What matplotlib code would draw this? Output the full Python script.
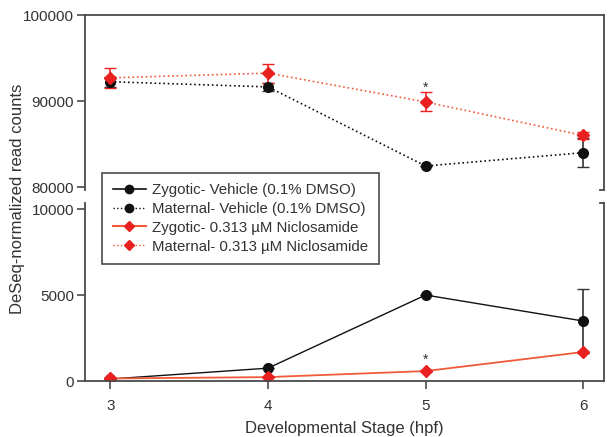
import numpy as np
import matplotlib
matplotlib.use("Agg")
import matplotlib.pyplot as plt
from matplotlib.lines import Line2D

plt.rcParams['font.family'] = ['Liberation Sans', 'DejaVu Sans']

stage = [3, 4, 5, 6]

# zygotic (lower panel)
zyg_veh = [120, 750, 5000, 3490]
zyg_veh_err = [0, 0, 0, 1860]
zyg_nic = [150, 230, 580, 1690]
zyg_nic_err = [0, 0, 0, 0]

# maternal (upper panel)
mat_veh = [92250, 91650, 82450, 84000]
mat_veh_err = [600, 450, 0, 1650]
mat_nic = [92700, 93250, 89900, 86000]
mat_nic_err = [1200, 1100, 1100, 450]

legend_labels = ["Zygotic- Vehicle (0.1% DMSO)",
                 "Maternal- Vehicle (0.1% DMSO)",
                 "Zygotic- 0.313 \u00b5M Niclosamide",
                 "Maternal- 0.313 \u00b5M Niclosamide"]

black = "#111111"
red = "#e8201f"
red_line = "#f05a3a"
spine_c = "#4a4a4a"
text_c = "#333333"

fig = plt.figure(figsize=(6.08, 4.37), dpi=100)
ax_top = fig.add_axes([0.140, 0.565, 0.853, 0.4005])
ax_bot = fig.add_axes([0.140, 0.128, 0.853, 0.4075])

for ax in (ax_top, ax_bot):
    ax.set_xlim(2.84, 6.13)
    for s in ax.spines.values():
        s.set_color(spine_c)
        s.set_linewidth(1.3)
    ax.tick_params(direction='out', length=6, width=1.2, color=spine_c,
                   labelsize=11, labelcolor=text_c, pad=2)

ax_top.spines['bottom'].set_visible(False)
ax_bot.spines['top'].set_visible(False)
ax_top.set_xticks([])
ax_bot.set_xticks(stage)
ax_bot.tick_params(axis='x', pad=7)

ax_top.set_ylim(79650, 100000)
ax_top.set_yticks([80000, 90000, 100000])
ax_bot.set_ylim(0, 10350)
ax_bot.set_yticks([0, 5000, 10000])

# break marks on right spine
ax_top.plot([0.993, 1.0], [0, 0], transform=ax_top.transAxes, color=spine_c,
            lw=1.3, clip_on=False)
ax_bot.plot([0.993, 1.0], [1, 1], transform=ax_bot.transAxes, color=spine_c,
            lw=1.3, clip_on=False)

# upper panel: maternal
ax_top.errorbar(stage, mat_veh, yerr=mat_veh_err, color=black, ls=':', lw=1.2,
                marker='o', ms=7, capsize=4.5, elinewidth=1.2, ecolor='#333333')
ax_top.errorbar(stage, mat_nic, yerr=mat_nic_err, color=red_line, ls=':', lw=1.2,
                marker='D', ms=6.5, mfc=red, mec=red, capsize=4.5,
                elinewidth=1.2, ecolor=red)
ax_top.text(5, 91600, "*", ha='center', va='center', fontsize=10, color=text_c)

# lower panel: zygotic
ax_bot.errorbar(stage, zyg_veh, yerr=zyg_veh_err, color=black, ls='-', lw=1.0,
                marker='o', ms=7, capsize=4.5, elinewidth=1.2, ecolor='#333333')
ax_bot.errorbar(stage, zyg_nic, yerr=zyg_nic_err, color=red_line, ls='-', lw=1.3,
                marker='D', ms=6.5, mfc=red, mec=red, capsize=4.5,
                elinewidth=1.2, ecolor=red)
ax_bot.text(5, 1250, "*", ha='center', va='center', fontsize=10, color=text_c)

ax_bot.set_xlabel("Developmental Stage (hpf)", fontsize=12, color=text_c,
                  labelpad=6)
fig.text(0.028, 0.545, "DeSeq-normalized read counts", rotation=90,
         ha='center', va='center', fontsize=12, color=text_c)

handles = [
    Line2D([], [], color=black, ls='-', lw=1.2, marker='o', ms=6),
    Line2D([], [], color=black, ls=':', lw=1.0, marker='o', ms=6),
    Line2D([], [], color=red_line, ls='-', lw=1.5, marker='D', ms=5.5, mfc=red, mec=red),
    Line2D([], [], color=red_line, ls=':', lw=1.0, marker='D', ms=5.5, mfc=red, mec=red),
]
leg = fig.legend(handles, legend_labels, loc='upper left',
                 bbox_to_anchor=(0.168, 0.605), fontsize=10.8, frameon=True,
                 fancybox=False, edgecolor=spine_c, framealpha=1,
                 handlelength=2.2, handletextpad=0.45, borderpad=0.7,
                 labelspacing=0.32, labelcolor=text_c, borderaxespad=0)
leg.get_frame().set_linewidth(1.2)

fig.savefig("out.png", dpi=100)
